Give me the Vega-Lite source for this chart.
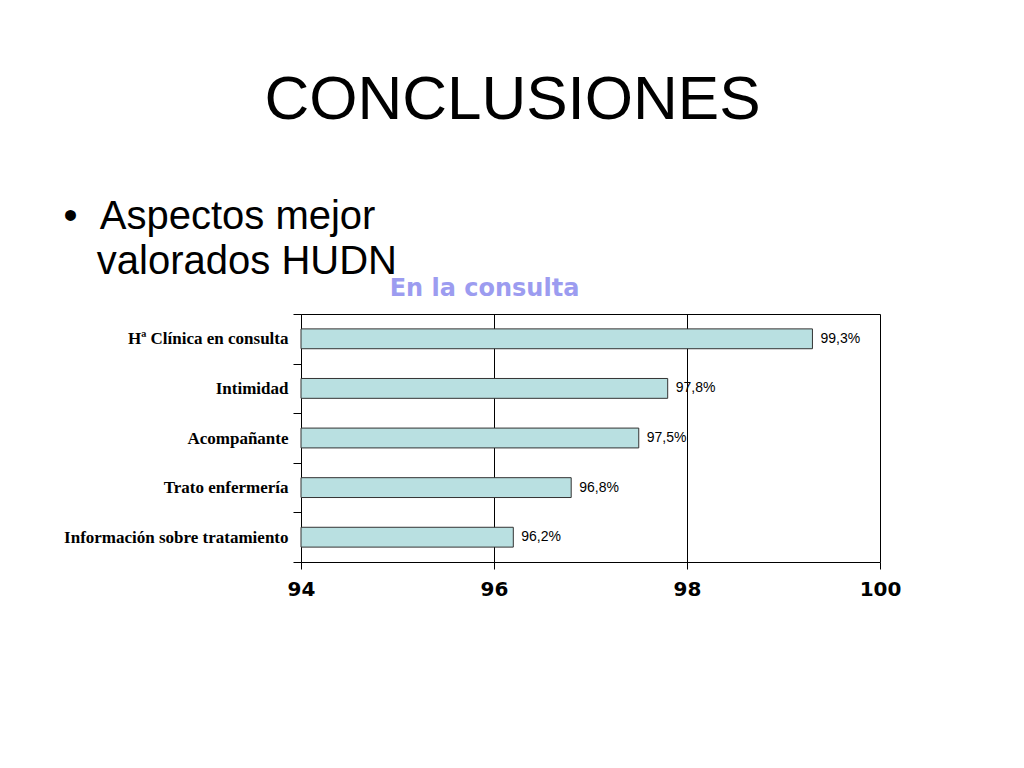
{
  "$schema": "https://vega.github.io/schema/vega-lite/v6.json",
  "description": "Aspectos mejor valorados HUDN - En la consulta",
  "autosize": "none",
  "padding": {"left": 301, "top": 314, "right": 144, "bottom": 206},
  "width": 579,
  "height": 248,
  "background": "white",
  "title": {
    "text": "CONCLUSIONES",
    "anchor": "middle",
    "frame": "group",
    "dx": -78,
    "baseline": "alphabetic",
    "offset": 15,
    "font": "Liberation Sans",
    "fontSize": 62,
    "fontWeight": "normal",
    "color": "black"
  },
  "data": {
    "values": [
      {"aspecto": "Hª Clínica en consulta", "valor": 99.3, "etiqueta": "99,3%"},
      {"aspecto": "Intimidad", "valor": 97.8, "etiqueta": "97,8%"},
      {"aspecto": "Acompañante", "valor": 97.5, "etiqueta": "97,5%"},
      {"aspecto": "Trato enfermería", "valor": 96.8, "etiqueta": "96,8%"},
      {"aspecto": "Información sobre tratamiento", "valor": 96.2, "etiqueta": "96,2%"}
    ]
  },
  "encoding": {
    "y": {
      "field": "aspecto",
      "type": "nominal",
      "sort": null,
      "scale": {"paddingInner": 0, "paddingOuter": 0},
      "axis": {
        "title": ["•\u00a0\u00a0Aspectos mejor", "\u200b\u00a0\u00a0\u00a0valorados HUDN"],
        "titleAngle": 0,
        "titleAlign": "left",
        "titleBaseline": "alphabetic",
        "titleX": -238,
        "titleY": -86,
        "titleFont": "Liberation Sans",
        "titleFontSize": 40,
        "titleFontWeight": "normal",
        "titleLineHeight": 45,
        "titleColor": "black",
        "tickBand": "extent",
        "tickSize": 8,
        "labelPadding": 5,
        "labelFont": "Liberation Serif",
        "labelFontWeight": "bold",
        "labelFontSize": 17,
        "labelColor": "black",
        "labelLimit": 300,
        "domainColor": "black",
        "tickColor": "black"
      }
    }
  },
  "layer": [
    {
      "mark": {"type": "bar", "height": {"band": 0.4}, "fill": "#b9e0e1", "stroke": "#333333", "strokeWidth": 1},
      "encoding": {
        "x": {
          "field": "valor",
          "type": "quantitative",
          "scale": {"domain": [94, 100], "zero": false, "nice": false},
          "axis": {
            "orient": "bottom",
            "title": null,
            "values": [94, 96, 98, 100],
            "grid": true,
            "gridColor": "black",
            "gridOpacity": 1,
            "tickSize": 7,
            "labelPadding": 10,
            "labelFont": "DejaVu Sans",
            "labelFontWeight": "bold",
            "labelFontSize": 20,
            "labelColor": "black",
            "labelFlush": false,
            "domainColor": "black",
            "tickColor": "black"
          }
        },
        "x2": {"datum": 94}
      }
    },
    {
      "mark": {"type": "text", "align": "left", "baseline": "middle", "dx": 8, "font": "Liberation Sans", "fontSize": 14, "color": "black"},
      "encoding": {
        "x": {
          "field": "valor",
          "type": "quantitative",
          "axis": {
            "orient": "top",
            "title": "En la consulta",
            "titleFont": "DejaVu Sans",
            "titleFontWeight": "bold",
            "titleFontSize": 24,
            "titleColor": "#9c9cf0",
            "titleAnchor": "start",
            "titleAlign": "center",
            "titleX": 183,
            "titleY": -19,
            "titleBaseline": "alphabetic",
            "labels": false,
            "ticks": false,
            "grid": false,
            "domainColor": "black"
          }
        },
        "text": {"field": "etiqueta"}
      }
    }
  ],
  "resolve": {"axis": {"x": "independent"}},
  "config": {"view": {"stroke": null}}
}
